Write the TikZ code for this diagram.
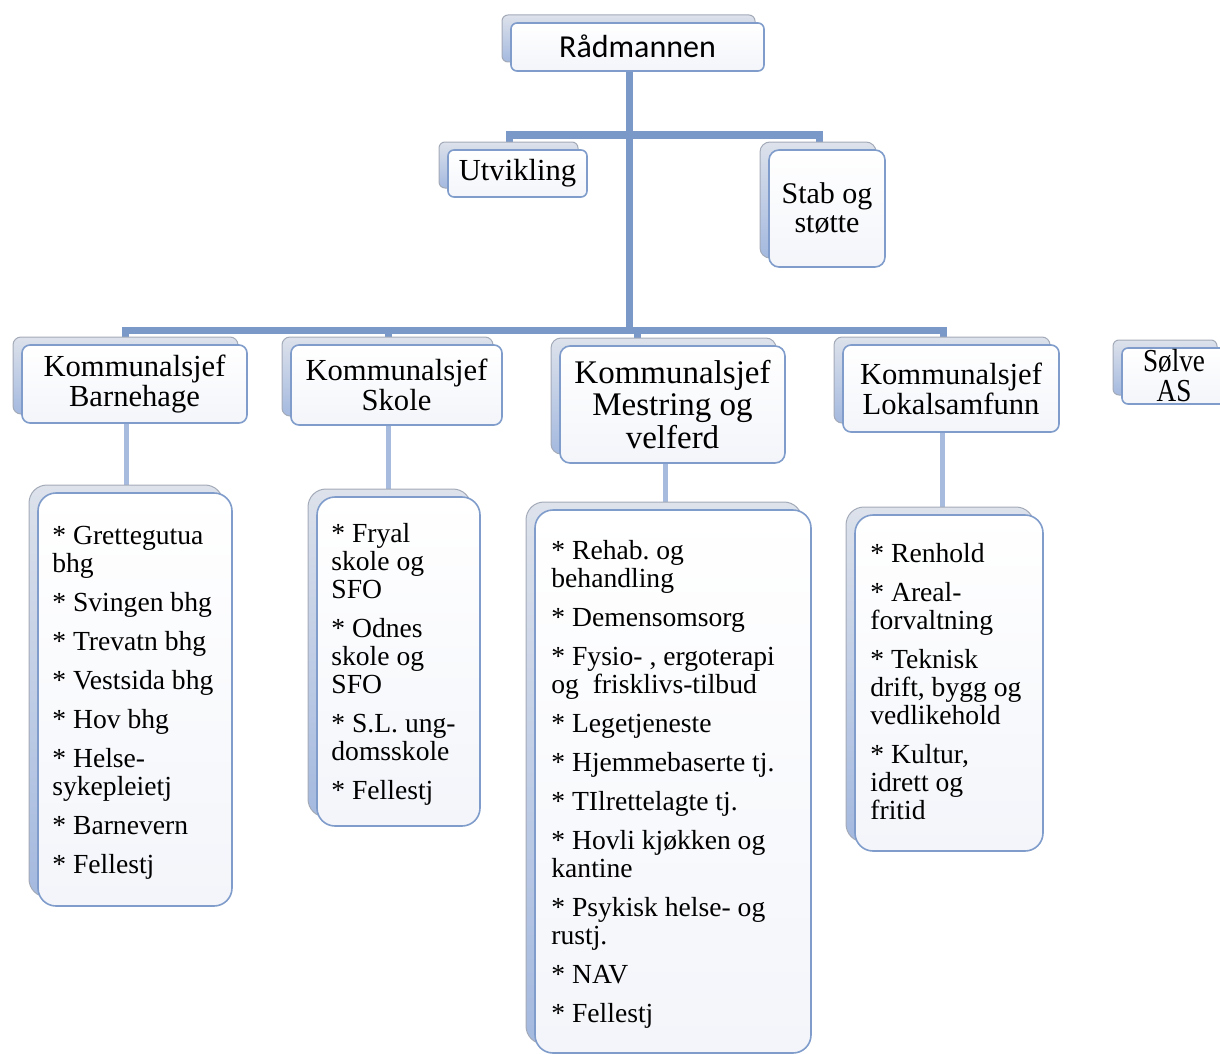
\documentclass[tikz,border=0pt]{standalone}
\usepackage{fontspec}
\usepackage{graphicx}
\setmainfont{Liberation Serif}
\newfontfamily\calibfont{Carlito}
\usetikzlibrary{backgrounds}
\definecolor{connA}{HTML}{7A98C8}
\definecolor{connB}{HTML}{A7BBDE}
\definecolor{frameblue}{HTML}{7F9CCB}
\definecolor{backtop}{HTML}{DDE2EB}
\definecolor{backbot}{HTML}{A4B9DF}
\definecolor{backline}{HTML}{A3AAB8}
\definecolor{frontbot}{HTML}{F3F5FA}
\frenchspacing
\tikzset{
  frontbox/.style={draw=frameblue, line width=0.8pt, top color=white, bottom color=frontbot,
    inner sep=0pt, outer sep=0pt, align=center},
  backbox/.style={draw=backline, line width=0.5pt, top color=backtop, bottom color=backbot},
  trunk/.style={draw=connA, line width=3.5pt},
  twig/.style={draw=connB, line width=2.5pt},
  hdrfont/.style={font=\fontsize{15.3}{15}\selectfont},
  lst/.style={anchor=base west, inner sep=0pt, font=\fontsize{13.8}{14}\selectfont},
}
% name, x1, y1, x2, y2, radius, text, font style
\newcommand\orgbox[8]{%
  \path[backbox, rounded corners=#6] ({#2-9},{#3-8}) rectangle ({#4-9},{#5-9});
  \node[frontbox, rounded corners=#6, #8, minimum width={(#4-#2)*0.5pt},
    minimum height={(#5-#3)*0.5pt}] (#1) at ({(#2+#4)/2},{(#3+#5)/2}) {#7};
}
\begin{document}
\begin{tikzpicture}[x=0.5pt,y=-0.5pt]
\useasboundingbox (0,0) rectangle (1220,1054);

% top level
\orgbox{radm}{511}{23}{764}{71}{3pt}{\raisebox{1pt}{Rådmannen}}{font=\calibfont\fontsize{16}{16}\selectfont}
\orgbox{util}{448}{150}{587}{197}{3pt}{\raisebox{-1.5pt}{Utvikling}}{hdrfont}
\orgbox{stab}{769}{150}{885}{267}{5pt}{Stab og\\støtte}{font=\fontsize{15}{14.5}\selectfont}

% heads
\orgbox{barn}{22}{345}{247}{423}{4pt}{Kommunalsjef\\Barnehage}{hdrfont}
\orgbox{skole}{291}{345}{502}{425}{4pt}{Kommunalsjef\\Skole}{hdrfont}
\orgbox{mest}{560}{346}{785}{463}{5pt}{Kommunalsjef\\Mestring og\\velferd}{font=\fontsize{16.5}{16.25}\selectfont}
\orgbox{lok}{843}{345}{1059}{432}{4pt}{Kommunalsjef\\Lokalsamfunn}{hdrfont}
\orgbox{solve}{1122}{348}{1226}{404}{3pt}{\scalebox{0.85}[1]{Sølve}\\\scalebox{0.85}[1]{AS}}{font=\fontsize{16}{15}\selectfont}

% lists
\orgbox{barnL}{38}{493}{232}{906}{9pt}{}{}
\orgbox{skoleL}{317}{497}{480}{826}{9pt}{}{}
\orgbox{mestL}{535}{510}{811}{1053}{9pt}{}{}
\orgbox{lokL}{855}{515}{1043}{851}{9pt}{}{}

\node[lst] (barnT) at (52,544) {\begin{tabular}[t]{@{}l@{}}
* Grettegutua\\ bhg\\[5.5pt]
* Svingen bhg\\[5.5pt]
* Trevatn bhg\\[5.5pt]
* Vestsida bhg\\[5.5pt]
* Hov bhg\\[5.5pt]
* Helse-\\ sykepleietj\\[5.5pt]
* Barnevern\\[5.5pt]
* Fellestj
\end{tabular}};

\node[lst] (skoleT) at (331,542) {\begin{tabular}[t]{@{}l@{}}
* Fryal\\ skole og\\ SFO\\[5.5pt]
* Odnes\\ skole og\\ SFO\\[5.5pt]
* S.L. ung-\\ domsskole\\[5.5pt]
* Fellestj
\end{tabular}};

\node[lst] (mestT) at (551,559) {\begin{tabular}[t]{@{}l@{}}
* Rehab. og\\ behandling\\[5.5pt]
* Demensomsorg\\[5.5pt]
* Fysio- , ergoterapi\\ og~ frisklivs-tilbud\\[5.5pt]
* Legetjeneste\\[5.5pt]
* Hjemmebaserte tj.\\[5.5pt]
* TIlrettelagte tj.\\[5.5pt]
* Hovli kjøkken og\\ kantine\\[5.5pt]
* Psykisk helse- og\\ rustj.\\[5.5pt]
* NAV\\[5.5pt]
* Fellestj
\end{tabular}};

\node[lst] (lokT) at (870,562) {\begin{tabular}[t]{@{}l@{}}
* Renhold\\[5.5pt]
* Areal-\\ forvaltning\\[5.5pt]
* Teknisk\\ drift, bygg og\\ vedlikehold\\[5.5pt]
* Kultur,\\ idrett og\\ fritid
\end{tabular}};

% connectors
\coordinate (hubA) at (629,135);
\coordinate (hubB) at (629,330);
\coordinate (jU) at (509,135);
\coordinate (jS) at (819,135);
\coordinate (jB) at (125,330);
\coordinate (jK) at (388,330);
\coordinate (jM) at (637,330);
\coordinate (jL) at (943,330);
\coordinate (tB) at (126,0);
\coordinate (tK) at (388,0);
\coordinate (tM) at (665,0);
\coordinate (tL) at (942,0);

\begin{scope}[on background layer]
  \draw[trunk] (radm.south -| hubA) -- (hubB);
  \draw[trunk] (util.north -| jU) -- (jU) -- (jS) -- (stab.north -| jS);
  \draw[trunk] (barn.north -| jB) -- (jB) -- (jL) -- (lok.north -| jL);
  \draw[trunk] (skole.north -| jK) -- (jK);
  \draw[trunk] (mest.north -| jM) -- (jM);
  \draw[twig] (barn.south -| tB) -- (barnL.north -| tB);
  \draw[twig] (skole.south -| tK) -- (skoleL.north -| tK);
  \draw[twig] (mest.south -| tM) -- (mestL.north -| tM);
  \draw[twig] (lok.south -| tL) -- (lokL.north -| tL);
\end{scope}
\end{tikzpicture}
\end{document}
